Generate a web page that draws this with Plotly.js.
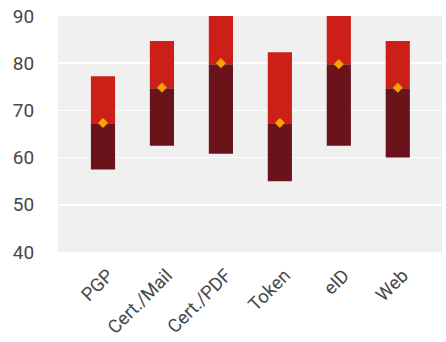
<!DOCTYPE html>
<html>
<head>
<meta charset="utf-8">
<script src="https://cdn.plot.ly/plotly-3.0.1.min.js"></script>
<style>
  html, body { margin: 0; padding: 0; background: #ffffff; }
  #chart { width: 446px; height: 342px; }
</style>
</head>
<body>
<div id="chart"></div>
<script>
// Score distribution per signing method: lower quartile, median, upper quartile, mean
const methods = ['PGP', 'Cert./Mail', 'Cert./PDF', 'Token', 'eID', 'Web'];
const q1 = [57.5, 62.5, 60.8, 55.0, 62.5, 60.0];
const median = [67.3, 74.7, 79.8, 67.3, 79.8, 74.7];
const q3 = [77.25, 84.7, 90.0, 82.3, 90.0, 84.7];
const mean = [67.35, 74.85, 80.0, 67.35, 79.8, 74.8];

const yTicks = [40, 50, 60, 70, 80, 90];

const lowerHeight = median.map((m, i) => m - q1[i]);
const upperHeight = q3.map((q, i) => q - median[i]);

const family = '"Liberation Sans Narrow", "Roboto", sans-serif';
const xFont = { family: family, size: 18.5, color: '#474747' };
const yFont = { family: family, size: 19, color: '#474747' };

const traces = [
  {
    type: 'bar',
    x: methods,
    y: lowerHeight,
    base: q1,
    width: 0.41,
    marker: { color: '#6b131b' },
    hoverinfo: 'skip'
  },
  {
    type: 'bar',
    x: methods,
    y: upperHeight,
    base: median,
    width: 0.41,
    marker: { color: '#cc1f17' },
    hoverinfo: 'skip'
  },
  {
    type: 'scatter',
    mode: 'markers',
    x: methods,
    y: mean,
    marker: { symbol: 'diamond', size: 7.5, color: '#f7a400', line: { width: 0.5, color: '#e88f00' } },
    hoverinfo: 'skip',
    cliponaxis: false
  }
];

const layout = {
  width: 446,
  height: 342,
  margin: { l: 58, r: 4, t: 16, b: 90 },
  paper_bgcolor: '#ffffff',
  plot_bgcolor: '#f0f0f0',
  showlegend: false,
  barmode: 'overlay',
  font: yFont,
  xaxis: {
    type: 'category',
    range: [-0.763, 5.75],
    showgrid: false,
    zeroline: false,
    showline: false,
    tickangle: -45,
    ticks: '',
    ticklabelstandoff: 8,
    ticklabelshift: 5,
    tickfont: xFont,
    fixedrange: true
  },
  yaxis: {
    range: [40, 90],
    tickvals: yTicks,
    ticktext: yTicks.map(String),
    showgrid: true,
    gridcolor: '#ffffff',
    gridwidth: 1.5,
    zeroline: false,
    showline: false,
    ticks: 'outside',
    ticklen: 19,
    tickcolor: 'rgba(0,0,0,0)',
    tickfont: yFont,
    fixedrange: true
  }
};

Plotly.newPlot('chart', traces, layout, { displayModeBar: false, staticPlot: true });
</script>
</body>
</html>
